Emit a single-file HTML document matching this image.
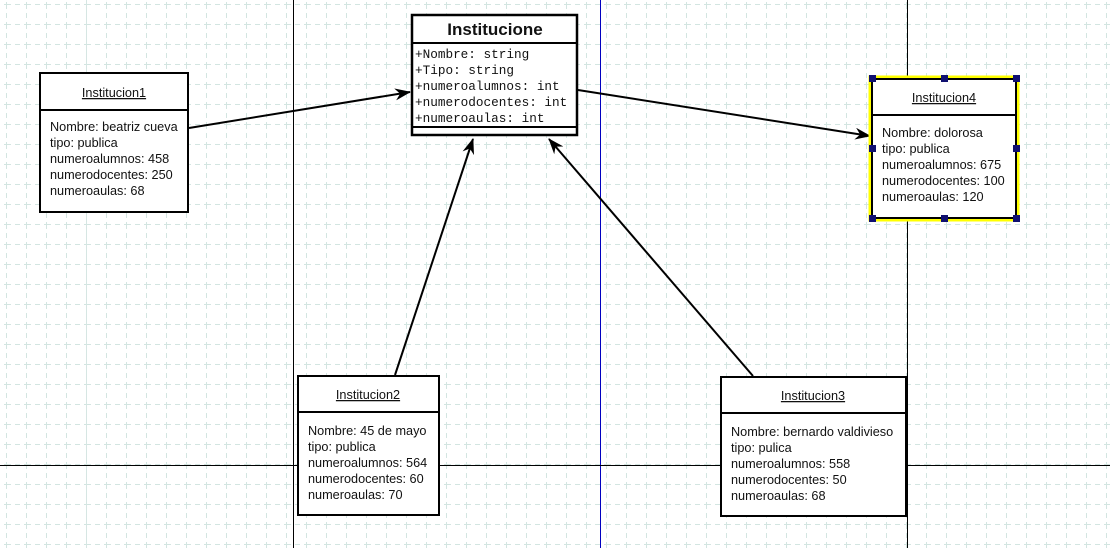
<!DOCTYPE html>
<html><head><style>
html,body{margin:0;padding:0;background:#fff;}
svg{display:block;font-family:"Liberation Sans",sans-serif;}
</style></head><body>
<svg width="1110" height="548" viewBox="0 0 1110 548" xmlns="http://www.w3.org/2000/svg">
<defs>
<pattern id="g" x="6" y="4" width="20" height="20" patternUnits="userSpaceOnUse">
<path d="M0.5 0V20M0 0.5H20" stroke="#d3e5e1" stroke-width="1" stroke-dasharray="5,4" fill="none"/>
</pattern>
<marker id="a" markerWidth="16" markerHeight="12" refX="15" refY="6" orient="auto" markerUnits="userSpaceOnUse">
<path d="M0,0 L16,6 L0,12 L5,6 Z" fill="#000"/>
</marker>
</defs>
<rect width="1110" height="548" fill="url(#g)"/>
<line x1="86.5" y1="0" x2="86.5" y2="548" stroke="#d6e6e3"/>
<line x1="293.5" y1="0" x2="293.5" y2="548" stroke="#000"/>
<line x1="600.5" y1="0" x2="600.5" y2="548" stroke="#0000c0"/>
<line x1="907.5" y1="0" x2="907.5" y2="548" stroke="#000"/>
<line x1="0" y1="465.5" x2="1110" y2="465.5" stroke="#000"/>

<g stroke="#000" stroke-width="2" fill="none" marker-end="url(#a)">
<line x1="189" y1="128" x2="410" y2="92"/>
<line x1="578" y1="90" x2="870" y2="136"/>
<line x1="395" y1="375" x2="473" y2="139"/>
<line x1="753" y1="376" x2="549" y2="139"/>
</g>

<!-- Institucione -->
<rect x="412" y="15" width="165" height="120" fill="#fff" stroke="#000" stroke-width="2.5"/>
<line x1="412" y1="43" x2="577" y2="43" stroke="#000" stroke-width="2"/>
<line x1="412" y1="127" x2="577" y2="127" stroke="#000" stroke-width="2"/>
<text x="495" y="35" text-anchor="middle" font-weight="bold" font-size="17" fill="#111">Institucione</text>
<g font-family="Liberation Mono,monospace" font-size="12.7" fill="#111">
<text x="415" y="58">+Nombre: string</text>
<text x="415" y="74">+Tipo: string</text>
<text x="415" y="90">+numeroalumnos: int</text>
<text x="415" y="106">+numerodocentes: int</text>
<text x="415" y="122">+numeroaulas: int</text>
</g>

<g font-size="12.7" fill="#111">
<!-- I1 -->
<rect x="40" y="73" width="148" height="139" fill="#fff" stroke="#000" stroke-width="2"/>
<line x1="40" y1="110" x2="188" y2="110" stroke="#000" stroke-width="2"/>
<text x="114" y="97" text-anchor="middle" text-decoration="underline">Institucion1</text>
<text x="50" y="131">Nombre: beatriz cueva</text>
<text x="50" y="147">tipo: publica</text>
<text x="50" y="163">numeroalumnos: 458</text>
<text x="50" y="179">numerodocentes: 250</text>
<text x="50" y="195">numeroaulas: 68</text>

<!-- I4 -->
<rect x="871" y="78" width="146" height="141" fill="none" stroke="#ffff00" stroke-width="5"/>
<rect x="872" y="79" width="144" height="139" fill="#fff" stroke="#000" stroke-width="2"/>
<line x1="872" y1="115" x2="1016" y2="115" stroke="#000" stroke-width="2"/>
<text x="944" y="102" text-anchor="middle" text-decoration="underline">Institucion4</text>
<text x="882" y="137">Nombre: dolorosa</text>
<text x="882" y="153">tipo: publica</text>
<text x="882" y="169">numeroalumnos: 675</text>
<text x="882" y="185">numerodocentes: 100</text>
<text x="882" y="201">numeroaulas: 120</text>
<g fill="#101070">
<rect x="869" y="75" width="7" height="7"/><rect x="941" y="75" width="7" height="7"/><rect x="1013" y="75" width="7" height="7"/>
<rect x="869" y="145" width="7" height="7"/><rect x="1013" y="145" width="7" height="7"/>
<rect x="869" y="215" width="7" height="7"/><rect x="941" y="215" width="7" height="7"/><rect x="1013" y="215" width="7" height="7"/>
</g>

<!-- I2 -->
<rect x="298" y="376" width="141" height="139" fill="#fff" stroke="#000" stroke-width="2"/>
<line x1="298" y1="412" x2="439" y2="412" stroke="#000" stroke-width="2"/>
<text x="368" y="399" text-anchor="middle" text-decoration="underline">Institucion2</text>
<text x="308" y="435">Nombre: 45 de mayo</text>
<text x="308" y="451">tipo: publica</text>
<text x="308" y="467">numeroalumnos: 564</text>
<text x="308" y="483">numerodocentes: 60</text>
<text x="308" y="499">numeroaulas: 70</text>

<!-- I3 -->
<rect x="721" y="377" width="185" height="139" fill="#fff" stroke="#000" stroke-width="2"/>
<line x1="721" y1="413" x2="906" y2="413" stroke="#000" stroke-width="2"/>
<text x="813" y="400" text-anchor="middle" text-decoration="underline">Institucion3</text>
<text x="731" y="436">Nombre: bernardo valdivieso</text>
<text x="731" y="452">tipo: pulica</text>
<text x="731" y="468">numeroalumnos: 558</text>
<text x="731" y="484">numerodocentes: 50</text>
<text x="731" y="500">numeroaulas: 68</text>
</g>
</svg>
</body></html>
